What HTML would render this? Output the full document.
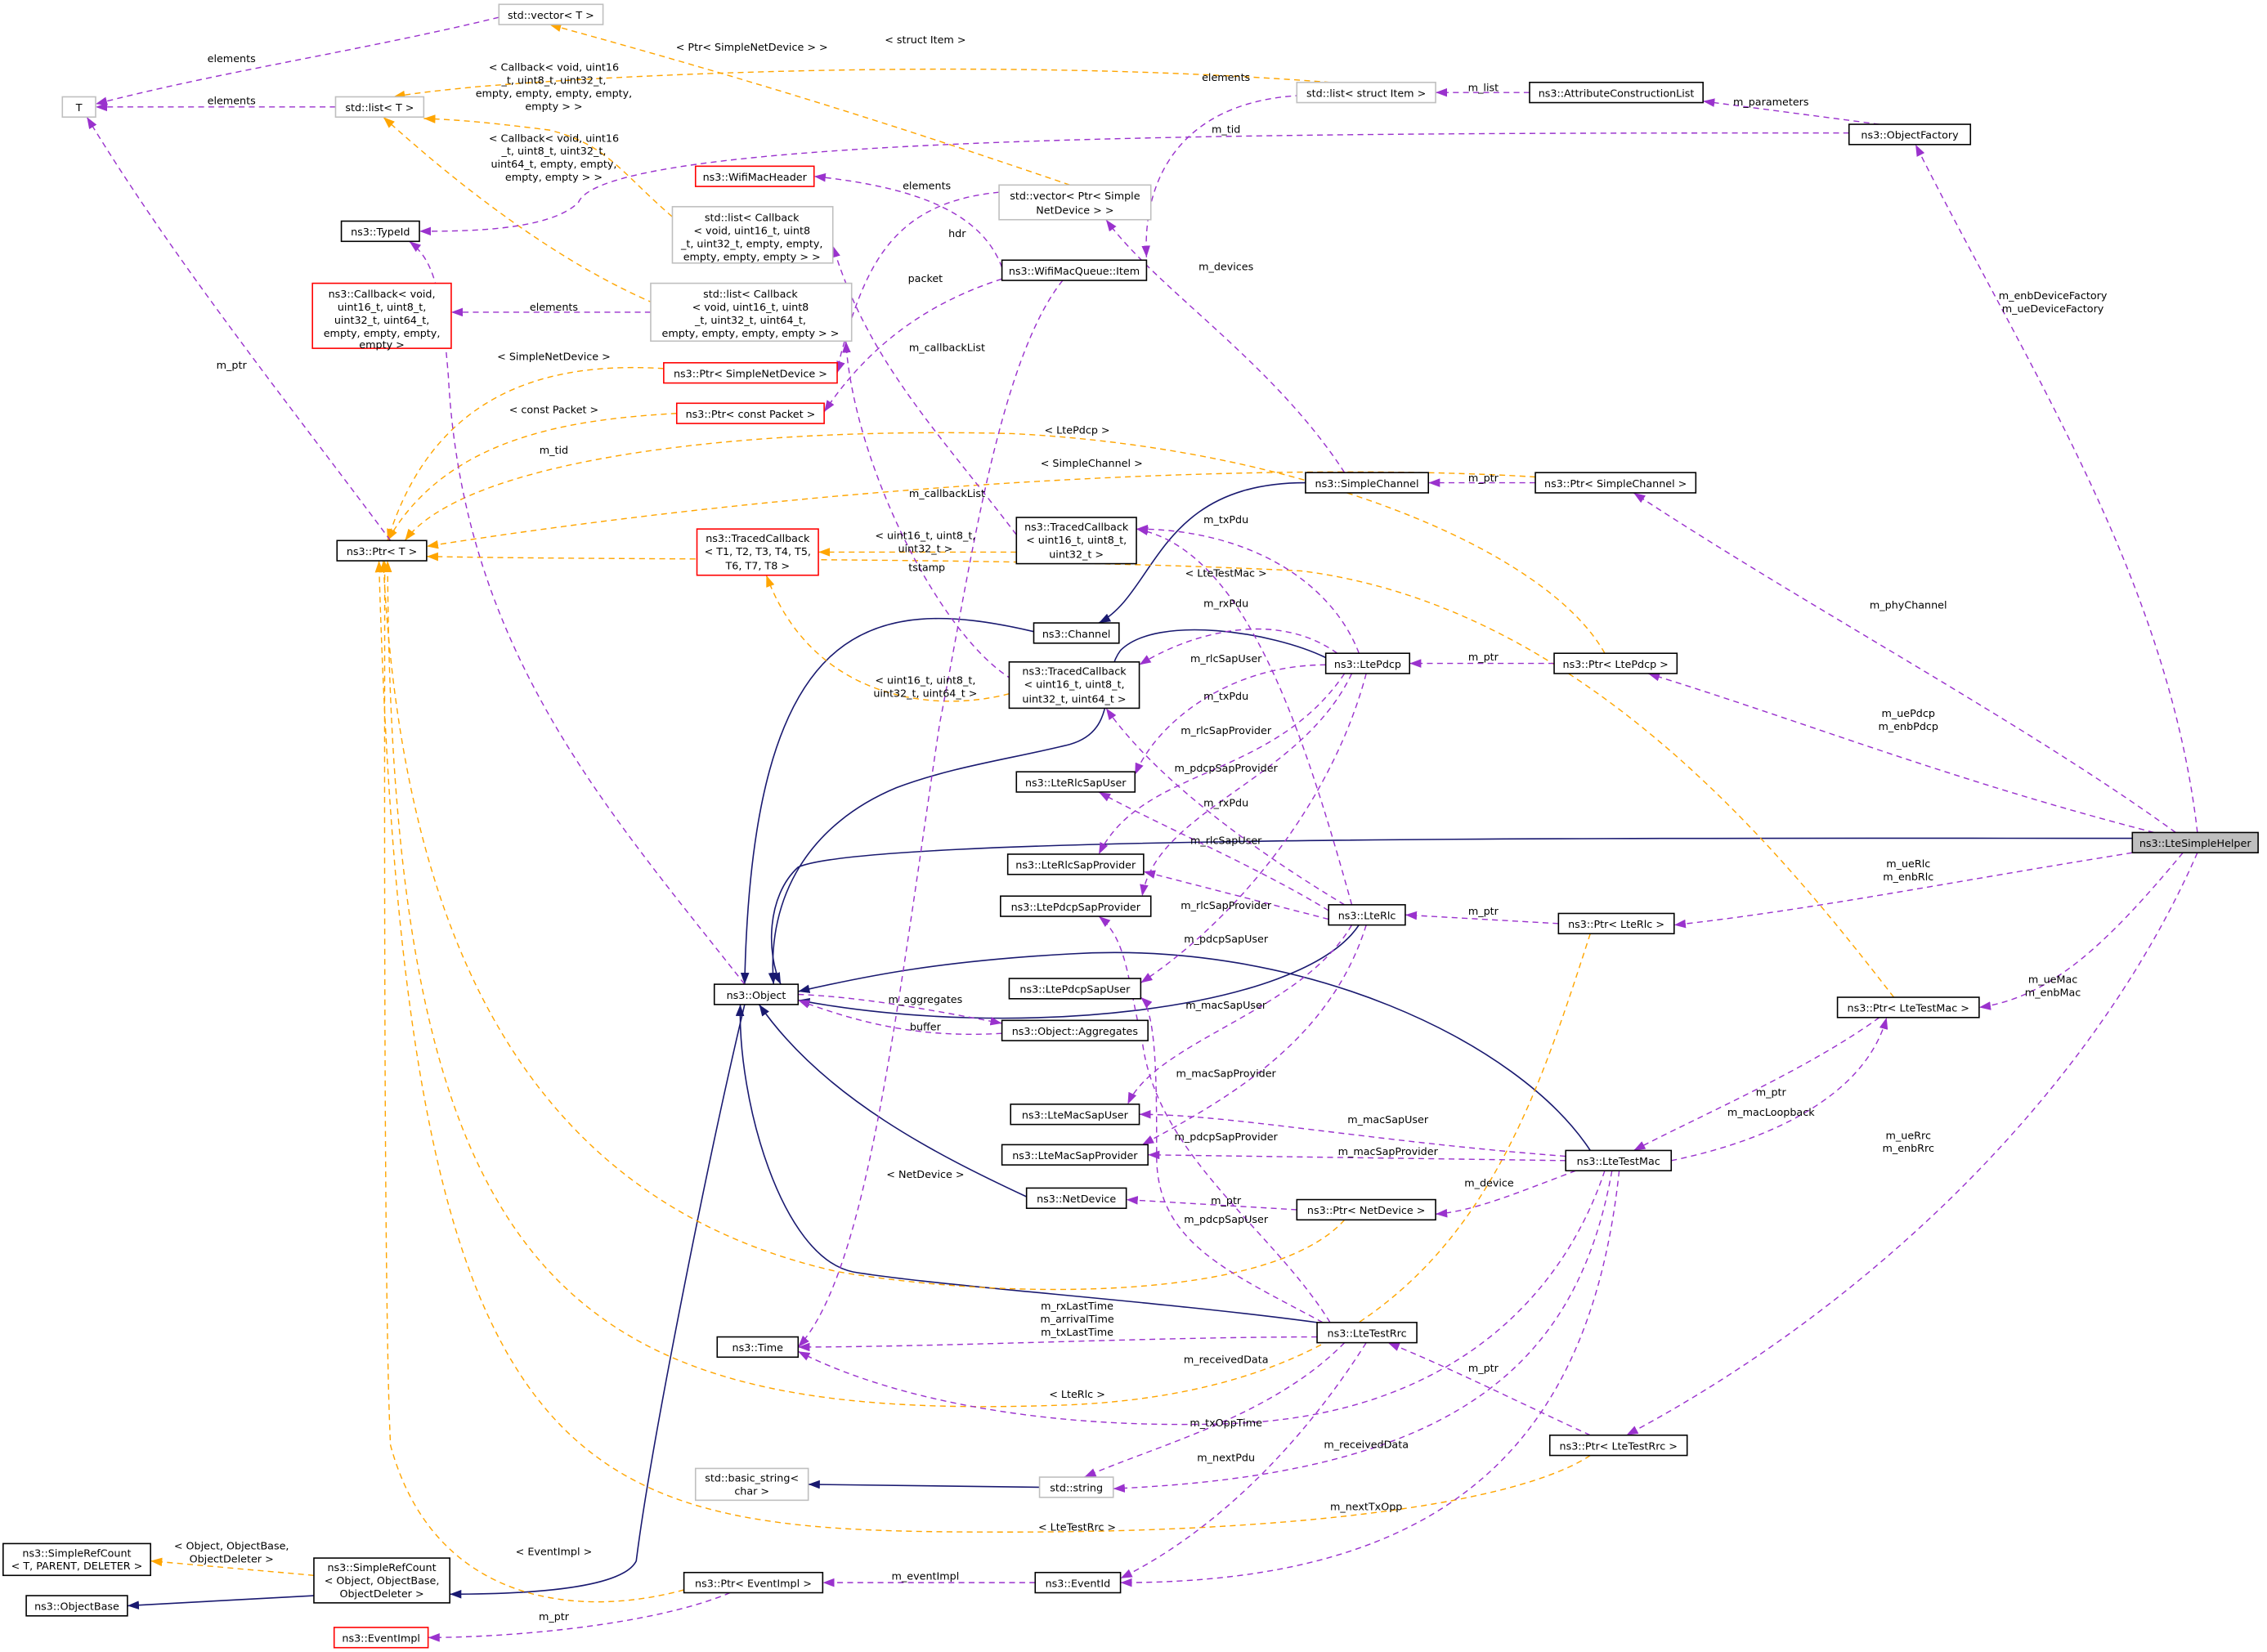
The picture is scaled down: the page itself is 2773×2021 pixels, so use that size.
<!DOCTYPE html>
<html><head><meta charset="utf-8"><style>
html,body{margin:0;padding:0;background:#fff;}
svg{display:block;}
text{font-family:"DejaVu Sans","Liberation Sans",sans-serif;font-size:7.2px;fill:#000;}
.n{fill:#fff;stroke:#000;stroke-width:0.9;}
.g{fill:#fff;stroke:#bfbfbf;stroke-width:0.9;}
.r{fill:#fff;stroke:#ff0000;stroke-width:0.9;}
.h{fill:#bfbfbf;stroke:#000;stroke-width:0.9;}
.p{fill:none;stroke:#9a32cd;stroke-width:0.8;stroke-dasharray:4,3;marker-end:url(#ap);}
.o{fill:none;stroke:#ffa500;stroke-width:0.8;stroke-dasharray:4,3;marker-end:url(#ao);}
.b{fill:none;stroke:#191970;stroke-width:0.9;marker-end:url(#ab);}
</style></head><body>
<svg width="2773" height="2021" viewBox="0 0 1568 1143" xmlns="http://www.w3.org/2000/svg">
<defs>
<marker id="ap" markerUnits="userSpaceOnUse" markerWidth="8" markerHeight="6" refX="8" refY="3" orient="auto"><path d="M0,0L8,3L0,6z" fill="#9a32cd"/></marker>
<marker id="ao" markerUnits="userSpaceOnUse" markerWidth="8" markerHeight="6" refX="8" refY="3" orient="auto"><path d="M0,0L8,3L0,6z" fill="#ffa500"/></marker>
<marker id="ab" markerUnits="userSpaceOnUse" markerWidth="8" markerHeight="6" refX="8" refY="3" orient="auto"><path d="M0,0L8,3L0,6z" fill="#191970"/></marker>
</defs>
<rect width="1568" height="1143" fill="#fff"/>

<!-- navy edges -->
<path class="b" d="M1475,580 C1100,580 600,578 552,600 C530,620 530,660 540,681"/>
<path class="b" d="M903,334 C800,334 800,410 760,431"/>
<path class="b" d="M715,437 C600,410 520,430 515,681"/>
<path class="b" d="M917,455 C880,437 800,425 775,450 C760,470 775,505 740,515 C700,525 660,530 620,545 C560,570 530,620 535,681"/>
<path class="b" d="M940,640 C900,700 700,720 552,692"/>
<path class="b" d="M1100,796 C1050,720 900,650 740,660 C650,665 600,675 552,686"/>
<path class="b" d="M710,828 C650,800 570,760 525,695"/>
<path class="b" d="M911,915 C800,900 650,890 590,880 C540,870 510,760 512,695"/>
<path class="b" d="M719,1029 L559,1027"/>
<path class="b" d="M515,695 C490,800 450,1000 440,1080 C430,1100 360,1103 311,1103"/>
<path class="b" d="M217,1104 L88,1111"/>

<!-- orange edges -->
<path class="o" d="M920,57 C700,40 450,50 330,60 C300,63 290,64 272,67"/>
<path class="o" d="M740,128 C600,80 500,50 380,17"/>
<path class="o" d="M465,150 C430,120 420,100 380,90 C340,85 320,83 293,82"/>
<path class="o" d="M465,215 C400,190 330,140 265,81"/>
<path class="o" d="M459,255 C380,250 300,270 268,374"/>
<path class="o" d="M468,286 C400,290 310,300 268,374"/>
<path class="o" d="M1062,330 C900,320 600,330 295,378"/>
<path class="o" d="M1110,452 C1070,380 900,310 700,300 C500,295 320,320 280,374"/>
<path class="o" d="M1310,690 C1240,600 1100,420 900,395 C700,385 450,388 295,385"/>
<path class="o" d="M1100,646 C1050,800 1000,960 740,972 C400,985 270,900 268,388"/>
<path class="o" d="M930,844 C880,900 700,900 580,880 C400,840 280,700 265,388"/>
<path class="o" d="M1100,1007 C1050,1040 900,1060 700,1060 C400,1060 280,1050 262,388"/>
<path class="o" d="M473,1100 C400,1120 300,1110 270,1000 C265,900 266,500 266,388"/>
<path class="o" d="M703,382 L566,382"/>
<path class="o" d="M698,480 C640,495 560,480 530,398"/>
<path class="o" d="M217,1090 L104,1080"/>

<!-- purple edges -->
<path class="p" d="M345,12 C250,35 150,50 66,72"/>
<path class="p" d="M232,74 L66,74"/>
<path class="p" d="M1058,64 L993,64"/>
<path class="p" d="M1300,86 L1178,70"/>
<path class="p" d="M1279,92 C900,92 420,92 400,140 C380,160 320,160 290,160"/>
<path class="p" d="M900,66 C820,70 790,120 793,178"/>
<path class="p" d="M693,185 C680,150 640,130 563,122"/>
<path class="p" d="M691,133 C620,140 600,180 583,240 C580,250 580,255 579,258"/>
<path class="p" d="M693,193 C640,210 600,240 570,285"/>
<path class="p" d="M735,194 C690,250 670,400 650,500 C620,700 600,880 552,932"/>
<path class="p" d="M930,327 C880,250 800,200 765,152"/>
<path class="p" d="M1062,334 L988,334"/>
<path class="p" d="M1505,576 C1400,500 1250,420 1130,341"/>
<path class="p" d="M1520,576 C1500,400 1400,250 1325,100"/>
<path class="p" d="M1490,576 C1350,540 1250,500 1140,466"/>
<path class="p" d="M1475,590 C1350,610 1250,630 1158,640"/>
<path class="p" d="M1510,590 C1460,650 1420,690 1369,697"/>
<path class="p" d="M1520,590 C1450,750 1300,900 1125,993"/>
<path class="p" d="M1075,459 L975,459"/>
<path class="p" d="M1078,639 L972,633"/>
<path class="p" d="M1300,704 C1250,740 1180,770 1130,796"/>
<path class="p" d="M1156,803 C1220,790 1290,760 1305,704"/>
<path class="p" d="M1090,810 C1050,825 1020,838 993,840"/>
<path class="p" d="M897,837 L779,830"/>
<path class="p" d="M1083,800 C950,790 850,771 788,771"/>
<path class="p" d="M1083,803 L794,799"/>
<path class="p" d="M1110,810 C1080,900 1000,980 850,985 C700,990 600,960 552,935"/>
<path class="p" d="M1115,810 C1090,950 1000,1020 770,1030"/>
<path class="p" d="M1120,810 C1100,1000 1000,1095 775,1095"/>
<path class="p" d="M1100,993 C1050,970 1000,945 960,929"/>
<path class="p" d="M911,925 C800,925 650,932 552,932"/>
<path class="p" d="M930,929 C880,980 800,1000 750,1022"/>
<path class="p" d="M945,929 C900,1000 840,1060 775,1092"/>
<path class="p" d="M915,915 C850,880 800,860 800,800 C800,750 800,700 789,690"/>
<path class="p" d="M920,915 C880,850 800,800 790,720 C780,680 780,650 760,634"/>
<path class="p" d="M919,630 C870,600 800,570 760,548"/>
<path class="p" d="M919,636 L791,603"/>
<path class="p" d="M935,640 C900,700 800,720 780,764"/>
<path class="p" d="M945,640 C920,720 850,760 790,792"/>
<path class="p" d="M930,626 C870,590 800,540 765,490"/>
<path class="p" d="M935,626 C900,500 860,380 786,366"/>
<path class="p" d="M940,452 C920,400 860,366 786,366"/>
<path class="p" d="M925,452 C880,420 820,440 788,460"/>
<path class="p" d="M917,460 C850,460 800,500 785,536"/>
<path class="p" d="M930,466 C880,540 790,530 760,591"/>
<path class="p" d="M935,466 C900,540 800,560 790,620"/>
<path class="p" d="M945,466 C920,560 850,640 789,680"/>
<path class="p" d="M703,370 C650,300 600,250 576,170"/>
<path class="p" d="M700,470 C650,440 590,320 585,236"/>
<path class="p" d="M450,216 L312,216"/>
<path class="p" d="M515,681 C420,560 320,450 310,260 C305,200 300,180 283,167"/>
<path class="p" d="M552,688 C600,690 650,700 693,708"/>
<path class="p" d="M693,715 C640,718 600,710 552,692"/>
<path class="p" d="M270,374 C200,280 120,180 60,81"/>
<path class="p" d="M505,1102 C450,1125 350,1133 296,1133"/>
<path class="p" d="M716,1095 L569,1095"/>

<!-- edge labels -->
<g text-anchor="middle">
<text x="160" y="43">elements</text>
<text x="160" y="72">elements</text>
<text x="1026" y="63">m_list</text>
<text x="1225" y="73">m_parameters</text>
<text x="848" y="92">m_tid</text>
<text x="848" y="56">elements</text>
<text x="662" y="164">hdr</text>
<text x="641" y="131">elements</text>
<text x="640" y="195">packet</text>
<text x="641" y="395">tstamp</text>
<text x="848" y="187">m_devices</text>
<text x="1026" y="333">m_ptr</text>
<text x="1320" y="421">m_phyChannel</text>
<text x="1420" y="207">m_enbDeviceFactory</text>
<text x="1420" y="216">m_ueDeviceFactory</text>
<text x="1320" y="496">m_uePdcp</text>
<text x="1320" y="505">m_enbPdcp</text>
<text x="1320" y="600">m_ueRlc</text>
<text x="1320" y="609">m_enbRlc</text>
<text x="1420" y="680">m_ueMac</text>
<text x="1420" y="689">m_enbMac</text>
<text x="1320" y="788">m_ueRrc</text>
<text x="1320" y="797">m_enbRrc</text>
<text x="1026" y="457">m_ptr</text>
<text x="1026" y="633">m_ptr</text>
<text x="1225" y="758">m_ptr</text>
<text x="1225" y="772">m_macLoopback</text>
<text x="1030" y="821">m_device</text>
<text x="848" y="833">m_ptr</text>
<text x="960" y="777">m_macSapUser</text>
<text x="960" y="799">m_macSapProvider</text>
<text x="848" y="987">m_txOppTime</text>
<text x="945" y="1002">m_receivedData</text>
<text x="945" y="1045">m_nextTxOpp</text>
<text x="1026" y="949">m_ptr</text>
<text x="745" y="906">m_rxLastTime</text>
<text x="745" y="915">m_arrivalTime</text>
<text x="745" y="924">m_txLastTime</text>
<text x="848" y="943">m_receivedData</text>
<text x="848" y="1011">m_nextPdu</text>
<text x="848" y="846">m_pdcpSapUser</text>
<text x="848" y="789">m_pdcpSapProvider</text>
<text x="848" y="584">m_rlcSapUser</text>
<text x="848" y="629">m_rlcSapProvider</text>
<text x="848" y="698">m_macSapUser</text>
<text x="848" y="745">m_macSapProvider</text>
<text x="848" y="558">m_rxPdu</text>
<text x="848" y="484">m_txPdu</text>
<text x="848" y="362">m_txPdu</text>
<text x="848" y="420">m_rxPdu</text>
<text x="848" y="458">m_rlcSapUser</text>
<text x="848" y="508">m_rlcSapProvider</text>
<text x="848" y="534">m_pdcpSapProvider</text>
<text x="848" y="652">m_pdcpSapUser</text>
<text x="655" y="243">m_callbackList</text>
<text x="655" y="344">m_callbackList</text>
<text x="383" y="215">elements</text>
<text x="383" y="314">m_tid</text>
<text x="640" y="694">m_aggregates</text>
<text x="640" y="713">buffer</text>
<text x="160" y="255">m_ptr</text>
<text x="383" y="1121">m_ptr</text>
<text x="640" y="1093">m_eventImpl</text>
<text x="640" y="30">&lt; struct Item &gt;</text>
<text x="520" y="35">&lt; Ptr&lt; SimpleNetDevice &gt; &gt;</text>
<text x="383" y="49">&lt; Callback&lt; void, uint16</text>
<text x="383" y="58">_t, uint8_t, uint32_t,</text>
<text x="383" y="67">empty, empty, empty, empty,</text>
<text x="383" y="76">empty &gt; &gt;</text>
<text x="383" y="98">&lt; Callback&lt; void, uint16</text>
<text x="383" y="107">_t, uint8_t, uint32_t,</text>
<text x="383" y="116">uint64_t, empty, empty,</text>
<text x="383" y="125">empty, empty &gt; &gt;</text>
<text x="383" y="249">&lt; SimpleNetDevice &gt;</text>
<text x="383" y="286">&lt; const Packet &gt;</text>
<text x="755" y="323">&lt; SimpleChannel &gt;</text>
<text x="745" y="300">&lt; LtePdcp &gt;</text>
<text x="848" y="399">&lt; LteTestMac &gt;</text>
<text x="745" y="967">&lt; LteRlc &gt;</text>
<text x="640" y="815">&lt; NetDevice &gt;</text>
<text x="745" y="1059">&lt; LteTestRrc &gt;</text>
<text x="383" y="1076">&lt; EventImpl &gt;</text>
<text x="640" y="373">&lt; uint16_t, uint8_t,</text>
<text x="640" y="382">uint32_t &gt;</text>
<text x="640" y="473">&lt; uint16_t, uint8_t,</text>
<text x="640" y="482">uint32_t, uint64_t &gt;</text>
<text x="160" y="1072">&lt; Object, ObjectBase,</text>
<text x="160" y="1081">ObjectDeleter &gt;</text>
</g>

<!-- nodes -->
<g text-anchor="middle">
<rect class="g" x="345" y="3" width="72" height="14"/><text x="381" y="13">std::vector&lt; T &gt;</text>
<rect class="g" x="43" y="67" width="23" height="14"/><text x="54.5" y="77">T</text>
<rect class="g" x="232" y="67" width="61" height="14"/><text x="262.5" y="77">std::list&lt; T &gt;</text>
<rect class="g" x="897" y="57" width="96" height="14"/><text x="945" y="67">std::list&lt; struct Item &gt;</text>
<rect class="n" x="1058" y="57" width="120" height="14"/><text x="1118" y="67">ns3::AttributeConstructionList</text>
<rect class="n" x="1279" y="86" width="84" height="14"/><text x="1321" y="96">ns3::ObjectFactory</text>
<rect class="r" x="481" y="115" width="82" height="14"/><text x="522" y="125">ns3::WifiMacHeader</text>
<rect class="g" x="691" y="128" width="105" height="24"/><text x="743.5" y="138">std::vector&lt; Ptr&lt; Simple</text><text x="743.5" y="148">NetDevice &gt; &gt;</text>
<rect class="g" x="465" y="143" width="111" height="39"/><text x="520" y="153">std::list&lt; Callback</text><text x="520" y="162">&lt; void, uint16_t, uint8</text><text x="520" y="171">_t, uint32_t, empty, empty,</text><text x="520" y="180">empty, empty, empty &gt; &gt;</text>
<rect class="n" x="236" y="153" width="54" height="14"/><text x="263" y="163">ns3::TypeId</text>
<rect class="n" x="693" y="180" width="100" height="14"/><text x="743" y="190">ns3::WifiMacQueue::Item</text>
<rect class="r" x="216" y="196" width="96" height="45"/><text x="264" y="206">ns3::Callback&lt; void,</text><text x="264" y="215">uint16_t, uint8_t,</text><text x="264" y="224">uint32_t, uint64_t,</text><text x="264" y="233">empty, empty, empty,</text><text x="264" y="241">empty &gt;</text>
<rect class="g" x="450" y="196" width="139" height="40"/><text x="519" y="206">std::list&lt; Callback</text><text x="519" y="215">&lt; void, uint16_t, uint8</text><text x="519" y="224">_t, uint32_t, uint64_t,</text><text x="519" y="233">empty, empty, empty, empty &gt; &gt;</text>
<rect class="r" x="459" y="251" width="120" height="14"/><text x="519" y="261">ns3::Ptr&lt; SimpleNetDevice &gt;</text>
<rect class="r" x="468" y="279" width="102" height="14"/><text x="519" y="289">ns3::Ptr&lt; const Packet &gt;</text>
<rect class="n" x="903" y="327" width="85" height="14"/><text x="945.5" y="337">ns3::SimpleChannel</text>
<rect class="n" x="1062" y="327" width="111" height="14"/><text x="1117.5" y="337">ns3::Ptr&lt; SimpleChannel &gt;</text>
<rect class="r" x="482" y="366" width="84" height="32"/><text x="524" y="375">ns3::TracedCallback</text><text x="524" y="384">&lt; T1, T2, T3, T4, T5,</text><text x="524" y="394">T6, T7, T8 &gt;</text>
<rect class="n" x="703" y="358" width="83" height="32"/><text x="744.5" y="367">ns3::TracedCallback</text><text x="744.5" y="376">&lt; uint16_t, uint8_t,</text><text x="744.5" y="386">uint32_t &gt;</text>
<rect class="n" x="233" y="374" width="62" height="14"/><text x="264" y="384">ns3::Ptr&lt; T &gt;</text>
<rect class="n" x="715" y="431" width="59" height="14"/><text x="744.5" y="441">ns3::Channel</text>
<rect class="n" x="917" y="452" width="58" height="14"/><text x="946" y="462">ns3::LtePdcp</text>
<rect class="n" x="1075" y="452" width="85" height="14"/><text x="1117.5" y="462">ns3::Ptr&lt; LtePdcp &gt;</text>
<rect class="n" x="698" y="458" width="90" height="32"/><text x="743" y="467">ns3::TracedCallback</text><text x="743" y="476">&lt; uint16_t, uint8_t,</text><text x="743" y="486">uint32_t, uint64_t &gt;</text>
<rect class="n" x="703" y="534" width="82" height="14"/><text x="744" y="544">ns3::LteRlcSapUser</text>
<rect class="h" x="1475" y="576" width="87" height="14"/><text x="1518.5" y="586">ns3::LteSimpleHelper</text>
<rect class="n" x="697" y="591" width="94" height="14"/><text x="744" y="601">ns3::LteRlcSapProvider</text>
<rect class="n" x="692" y="620" width="104" height="14"/><text x="744" y="630">ns3::LtePdcpSapProvider</text>
<rect class="n" x="919" y="626" width="53" height="14"/><text x="945.5" y="636">ns3::LteRlc</text>
<rect class="n" x="1078" y="632" width="80" height="14"/><text x="1118" y="642">ns3::Ptr&lt; LteRlc &gt;</text>
<rect class="n" x="494" y="681" width="58" height="14"/><text x="523" y="691">ns3::Object</text>
<rect class="n" x="698" y="677" width="91" height="14"/><text x="743.5" y="687">ns3::LtePdcpSapUser</text>
<rect class="n" x="693" y="706" width="101" height="14"/><text x="743.5" y="716">ns3::Object::Aggregates</text>
<rect class="n" x="1271" y="690" width="98" height="14"/><text x="1320" y="700">ns3::Ptr&lt; LteTestMac &gt;</text>
<rect class="n" x="699" y="764" width="89" height="14"/><text x="743.5" y="774">ns3::LteMacSapUser</text>
<rect class="n" x="693" y="792" width="101" height="14"/><text x="743.5" y="802">ns3::LteMacSapProvider</text>
<rect class="n" x="1083" y="796" width="73" height="14"/><text x="1119.5" y="806">ns3::LteTestMac</text>
<rect class="n" x="710" y="822" width="69" height="14"/><text x="744.5" y="832">ns3::NetDevice</text>
<rect class="n" x="897" y="830" width="96" height="14"/><text x="945" y="840">ns3::Ptr&lt; NetDevice &gt;</text>
<rect class="n" x="911" y="915" width="69" height="14"/><text x="945.5" y="925">ns3::LteTestRrc</text>
<rect class="n" x="496" y="925" width="56" height="14"/><text x="524" y="935">ns3::Time</text>
<rect class="n" x="1072" y="993" width="95" height="14"/><text x="1119.5" y="1003">ns3::Ptr&lt; LteTestRrc &gt;</text>
<rect class="g" x="481" y="1016" width="78" height="22"/><text x="520" y="1025">std::basic_string&lt;</text><text x="520" y="1034">char &gt;</text>
<rect class="g" x="719" y="1022" width="51" height="14"/><text x="744.5" y="1032">std::string</text>
<rect class="n" x="2" y="1068" width="102" height="22"/><text x="53" y="1077">ns3::SimpleRefCount</text><text x="53" y="1086">&lt; T, PARENT, DELETER &gt;</text>
<rect class="n" x="217" y="1078" width="94" height="31"/><text x="264" y="1087">ns3::SimpleRefCount</text><text x="264" y="1096">&lt; Object, ObjectBase,</text><text x="264" y="1105">ObjectDeleter &gt;</text>
<rect class="n" x="473" y="1088" width="96" height="14"/><text x="521" y="1098">ns3::Ptr&lt; EventImpl &gt;</text>
<rect class="n" x="716" y="1088" width="59" height="14"/><text x="745.5" y="1098">ns3::EventId</text>
<rect class="n" x="18" y="1104" width="70" height="14"/><text x="53" y="1114">ns3::ObjectBase</text>
<rect class="r" x="231" y="1126" width="65" height="14"/><text x="263.5" y="1136">ns3::EventImpl</text>
</g>
</svg>
</body></html>
